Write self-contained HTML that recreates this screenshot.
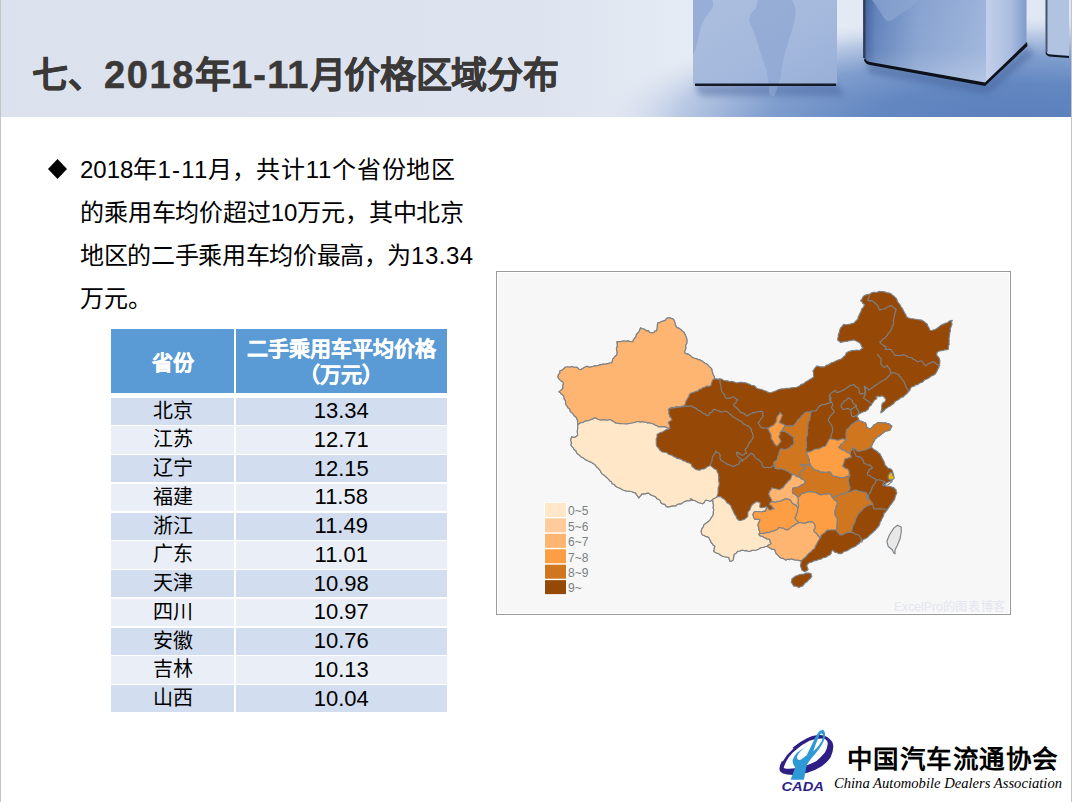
<!DOCTYPE html>
<html lang="zh-CN"><head><meta charset="utf-8">
<style>
*{margin:0;padding:0;box-sizing:border-box}
html,body{width:1072px;height:802px;overflow:hidden;background:#fff}
body{position:relative;font-family:"Liberation Sans",sans-serif;color:#000}
.abs{position:absolute}
#lb{left:0;top:0;width:1px;height:802px;background:#c4c4c4}
#rb{left:1071px;top:0;width:1px;height:802px;background:#c4c4c4}
#title{left:32px;top:46px;font-size:36px;font-weight:bold;color:#3b3838;white-space:nowrap;-webkit-text-stroke:0.5px #3b3838}
#title .d1{font-size:38px;letter-spacing:1.6px}
#title .d2{font-size:38px;letter-spacing:1.2px}
.bl{left:80px;font-size:24px;line-height:43px;color:#000;white-space:nowrap}
#dia{left:48px;top:159px;width:19px;height:20px}
.th{position:absolute;background:#5b9bd5;color:#fff;font-weight:bold;font-size:21px;-webkit-text-stroke:0.3px #fff}
.td{position:absolute;font-size:20px;color:#000;text-align:center;line-height:27px}
#wm{left:894px;top:599px;font-size:11px;color:#e6e6ee;white-space:nowrap}
</style></head><body>
<svg class="abs" style="left:0;top:0" width="1072" height="117" viewBox="0 0 1072 117">
<defs>
<linearGradient id="hbg" x1="0" y1="0" x2="1072" y2="0" gradientUnits="userSpaceOnUse">
 <stop offset="0" stop-color="#dbe2ed"/><stop offset="0.5" stop-color="#dde4ef"/><stop offset="0.6" stop-color="#e3e9f3"/><stop offset="0.65" stop-color="#e6ecf5"/><stop offset="1" stop-color="#dfe7f3"/>
</linearGradient>
<radialGradient id="floor" gradientUnits="userSpaceOnUse" cx="1020" cy="120" r="420" gradientTransform="translate(0 90) scale(1 0.25)">
 <stop offset="0" stop-color="#5a7fbb"/><stop offset="0.35" stop-color="#6387c1"/><stop offset="0.6" stop-color="#809ece"/><stop offset="0.82" stop-color="#bccbe5"/><stop offset="1" stop-color="#dde4ef" stop-opacity="0"/>
</radialGradient>
<linearGradient id="c1" x1="0" y1="0" x2="1" y2="1">
 <stop offset="0" stop-color="#adbfe0"/><stop offset="0.6" stop-color="#a3b8dc"/><stop offset="1" stop-color="#98afd7"/>
</linearGradient>
<linearGradient id="c2" x1="864" y1="0" x2="984" y2="0" gradientUnits="userSpaceOnUse">
 <stop offset="0" stop-color="#42619c"/><stop offset="0.1" stop-color="#6182bb"/><stop offset="0.45" stop-color="#86a2d0"/><stop offset="1" stop-color="#9cb3da"/>
</linearGradient>
<linearGradient id="c2v" x1="0" y1="0" x2="0" y2="1">
 <stop offset="0" stop-color="#ffffff" stop-opacity="0"/><stop offset="0.6" stop-color="#ffffff" stop-opacity="0.05"/><stop offset="1" stop-color="#ffffff" stop-opacity="0.25"/>
</linearGradient>
<linearGradient id="c2r" x1="0" y1="0" x2="1" y2="0">
 <stop offset="0" stop-color="#c3d0ea"/><stop offset="0.6" stop-color="#abbee0"/><stop offset="1" stop-color="#7f9bcc"/>
</linearGradient>
<linearGradient id="sh" x1="0" y1="0" x2="0" y2="1">
 <stop offset="0" stop-color="#3f5f98" stop-opacity="0.55"/><stop offset="1" stop-color="#3f5f98" stop-opacity="0"/>
</linearGradient>
<filter id="blur" x="-20%" y="-50%" width="140%" height="200%"><feGaussianBlur stdDeviation="3"/></filter>
</defs>
<rect x="0" y="0" width="1072" height="117" fill="url(#hbg)"/>
<rect x="540" y="0" width="532" height="117" fill="url(#floor)"/>
<g filter="url(#blur)"><path d="M694 84 L837 84 L845 96 L700 96Z" fill="#3f5f98" opacity="0.45"/>
<path d="M866 62 L985 84 L1027 46 L1034 54 L988 94 L870 74Z" fill="#3f5f98" opacity="0.5"/></g>
<!-- cube 1 -->
<path d="M693 0 L837 0 L837 82 Q837 85 834 85 L696 85 Q693 85 693 82Z" fill="url(#c1)"/>
<path d="M758 0 L791.9 0 Q796 6 795.3 13.5 Q795 20 793 27.1 Q790 36 787.4 45.1 Q784 54 782.8 63.2 Q781 72 780.6 76.7 L778.3 84 L768.5 84 Q768 78 767 72.2 Q765 65 762.5 58.7 Q760 52 758 45.1 Q756 38 753.5 31.6 Q751 25 749 20.3 Q750 12 755.8 9Z" fill="#8aa4d0" opacity="0.6"/>
<path d="M769 86 L778 86 Q776 92 773.8 97.1 Q770 96 769 92Z" fill="#8ea8d2" opacity="0.6"/>
<path d="M693 0 L712 0 Q716 6 708 14 Q700 24 698 40 Q696 50 693 54Z" fill="#8aa4d0" opacity="0.6"/>
<path d="M695 83.5 L836 83.5 L836 86 L695 86Z" fill="#141a28"/>
<!-- cube 2 -->
<path d="M864 0 L986 0 L986 84 L869 63 Q864 62 864 57Z" fill="url(#c2)"/>
<path d="M864 0 L986 0 L986 84 L869 63 Q864 62 864 57Z" fill="url(#c2v)"/>
<path d="M986 0 L1026.5 0 L1026.5 43 L986 83Z" fill="url(#c2r)"/>
<path d="M863 0 L865.5 0 L865.5 58 L863 58Z" fill="#2c3a5a" opacity="0.9"/>
<path d="M864 60.5 Q866 64.5 870 65 L985 86 L1027.5 46 L1027 42 L985 82.5 L870 62 Q866 61.5 865 58Z" fill="#0d1119"/>
<path d="M872 0 Q878 8 884 18 Q888 24 892 20 Q900 14 910 8 Q916 4 918 0Z" fill="#8ea7d1" opacity="0.7"/>
<!-- cube 3 -->
<path d="M1045.5 0 L1069 0 L1069 55.5 L1049 54 Q1045.5 53 1045.5 50Z" fill="#b2c3e2"/>
<path d="M1045.5 0 L1047.5 0 L1047.5 52 L1045.5 52Z" fill="#2c3a5a" opacity="0.8"/>
<path d="M1046 51.5 Q1047 54 1050 54.5 L1069 56 L1069 58 L1049 56.5 Q1046 55.5 1045.5 53Z" fill="#10151f"/>
</svg>
<div id="lb" class="abs"></div><div id="rb" class="abs"></div>
<div id="title" class="abs">七、<span class="d1">2018</span>年<span class="d2">1-11</span>月<span style="margin-left:-1.5px;letter-spacing:-0.3px">价格区域分布</span></div>
<svg id="dia" class="abs" viewBox="0 0 19 20"><path d="M9.5 0 L19 10 L9.5 20 L0 10Z" fill="#000"/></svg>
<div class="abs bl" style="top:148px">2018年<span style="letter-spacing:1.2px">1-11</span>月，<span style="letter-spacing:0.7px">共计11个省份地区</span></div>
<div class="abs bl" style="top:191px;letter-spacing:-0.15px">的乘用车均价超过10万元，其中北京</div>
<div class="abs bl" style="top:234px;letter-spacing:-0.35px">地区的二手乘用车均价最高，为<span style="letter-spacing:0.5px">13.34</span></div>
<div class="abs bl" style="top:277px">万元。</div>
<div class="th" style="left:111px;top:329px;width:123px;height:64px"><span style="position:absolute;left:0;right:0;top:17px;text-align:center">省份</span></div>
<div class="th" style="left:235.5px;top:329px;width:211.5px;height:64px"><span style="position:absolute;left:0;right:0;top:7px;text-align:center;line-height:26px">二手乘用车平均价格<br>（万元）</span></div>
<div class="td" style="left:111px;top:397.50px;width:123px;height:27.27px;background:#d2deef"><span>北京</span></div>
<div class="td" style="left:235.5px;top:397.50px;width:211.5px;height:27.27px;background:#d2deef"><span style="font-size:22px;position:relative;top:-0.5px">13.34</span></div>
<div class="td" style="left:111px;top:426.27px;width:123px;height:27.27px;background:#eaeff7"><span>江苏</span></div>
<div class="td" style="left:235.5px;top:426.27px;width:211.5px;height:27.27px;background:#eaeff7"><span style="font-size:22px;position:relative;top:-0.5px">12.71</span></div>
<div class="td" style="left:111px;top:455.04px;width:123px;height:27.27px;background:#d2deef"><span>辽宁</span></div>
<div class="td" style="left:235.5px;top:455.04px;width:211.5px;height:27.27px;background:#d2deef"><span style="font-size:22px;position:relative;top:-0.5px">12.15</span></div>
<div class="td" style="left:111px;top:483.81px;width:123px;height:27.27px;background:#eaeff7"><span>福建</span></div>
<div class="td" style="left:235.5px;top:483.81px;width:211.5px;height:27.27px;background:#eaeff7"><span style="font-size:22px;position:relative;top:-0.5px">11.58</span></div>
<div class="td" style="left:111px;top:512.58px;width:123px;height:27.27px;background:#d2deef"><span>浙江</span></div>
<div class="td" style="left:235.5px;top:512.58px;width:211.5px;height:27.27px;background:#d2deef"><span style="font-size:22px;position:relative;top:-0.5px">11.49</span></div>
<div class="td" style="left:111px;top:541.35px;width:123px;height:27.27px;background:#eaeff7"><span>广东</span></div>
<div class="td" style="left:235.5px;top:541.35px;width:211.5px;height:27.27px;background:#eaeff7"><span style="font-size:22px;position:relative;top:-0.5px">11.01</span></div>
<div class="td" style="left:111px;top:570.12px;width:123px;height:27.27px;background:#d2deef"><span>天津</span></div>
<div class="td" style="left:235.5px;top:570.12px;width:211.5px;height:27.27px;background:#d2deef"><span style="font-size:22px;position:relative;top:-0.5px">10.98</span></div>
<div class="td" style="left:111px;top:598.89px;width:123px;height:27.27px;background:#eaeff7"><span>四川</span></div>
<div class="td" style="left:235.5px;top:598.89px;width:211.5px;height:27.27px;background:#eaeff7"><span style="font-size:22px;position:relative;top:-0.5px">10.97</span></div>
<div class="td" style="left:111px;top:627.66px;width:123px;height:27.27px;background:#d2deef"><span>安徽</span></div>
<div class="td" style="left:235.5px;top:627.66px;width:211.5px;height:27.27px;background:#d2deef"><span style="font-size:22px;position:relative;top:-0.5px">10.76</span></div>
<div class="td" style="left:111px;top:656.43px;width:123px;height:27.27px;background:#eaeff7"><span>吉林</span></div>
<div class="td" style="left:235.5px;top:656.43px;width:211.5px;height:27.27px;background:#eaeff7"><span style="font-size:22px;position:relative;top:-0.5px">10.13</span></div>
<div class="td" style="left:111px;top:685.20px;width:123px;height:27.27px;background:#d2deef"><span>山西</span></div>
<div class="td" style="left:235.5px;top:685.20px;width:211.5px;height:27.27px;background:#d2deef"><span style="font-size:22px;position:relative;top:-0.5px">10.04</span></div>
<svg class="abs" style="left:0;top:0" width="1072" height="802" viewBox="0 0 1072 802">
<rect x="496.5" y="271.5" width="514" height="343" fill="#f7f7f7" stroke="#9a9a9a" stroke-width="1"/>
<rect x="497.5" y="272.5" width="512" height="341" fill="none" stroke="#ffffff" stroke-width="1"/>
<path d="M558 376.8 L558.4 374.7 L559.8 373.3 L560 370.8 L562.2 370.1 L563.7 368.8 L565 367.3 L566.7 367 L568.8 367 L569.9 367.2 L572 366.5 L573.4 367.1 L575.6 367.3 L576.9 367.3 L577.9 368.1 L579.1 369.3 L580.9 369.8 L582.4 368.5 L583.9 367.9 L585.9 366.5 L587.1 366.2 L588.8 367.2 L590.9 366.9 L593.1 366.5 L594.5 365.9 L596.7 365.9 L598.1 365.5 L599.9 364.9 L602.2 364.4 L603.7 364 L605.5 364.3 L607.8 363.6 L610.3 363 L611.9 362.9 L612.4 360.6 L612.9 358.9 L613.9 357.8 L615.1 356.3 L616.9 354.9 L617.2 352.7 L616.9 351 L616.4 348.6 L617.3 346.6 L617.3 343.6 L616.9 341.9 L618.4 341.6 L620.3 341.6 L622 341.2 L623.7 341 L626.3 341.3 L627.9 340.9 L629.1 341.2 L631.3 341.8 L632.8 341.9 L633.4 339.8 L634.3 338.6 L636.2 336.3 L636.3 334.7 L637.4 333.3 L639.1 331.7 L639.9 329.4 L640.8 327.9 L642.3 328.8 L644.4 329.2 L646.5 330.9 L648.5 330.7 L649.5 332.5 L651.8 332.9 L653.9 332.7 L654.7 331.1 L656.8 330.9 L657 329.3 L657.4 326.4 L657.4 324.9 L657.8 322.9 L659.8 322.6 L662.2 321.2 L663.8 320.9 L665.7 320.1 L666.5 318.6 L667.8 317.9 L669.1 317.7 L671.1 318.4 L672.8 318.9 L674 320.2 L674.8 322.1 L675.1 323.7 L675.8 325.9 L677 327.6 L679.2 328.4 L681 329.7 L681.8 330.8 L683.8 331.9 L684.7 334.1 L685.3 334.9 L686 336.8 L686.8 338.9 L686.9 341.4 L686.8 343.2 L685.6 345.3 L685.8 346.9 L685.8 348.5 L684.6 351.4 L684.8 352.9 L686.6 353.9 L688.7 354.4 L690.4 355.8 L691.7 356.9 L693.5 358 L695.6 358.5 L697.9 359.4 L699.7 359.9 L701.6 360.7 L703.1 361.9 L704.9 363.3 L706.5 363.9 L707.7 364.9 L709.1 366.6 L710.7 367.8 L711.7 368.8 L711.9 370.7 L712.5 372.4 L713.1 374.7 L714.2 376.4 L714.7 378.8 L716.8 378.8 L717.7 379.2 L719.7 378.8 L722.1 379.3 L723.2 380.2 L725.5 380.8 L727.7 380.8 L729.3 381.7 L731.2 381.2 L733.8 381.9 L736.1 382.8 L737.7 382.8 L739.8 382.3 L741.6 382.3 L743.1 382.6 L745.6 382.8 L748.1 383.7 L749.5 384.3 L751.3 385.2 L753.8 385.6 L755.6 386.8 L756 387.8 L758.1 388.7 L760.5 389.2 L762.3 389.8 L763.9 390.5 L766.4 391.2 L768.2 392.4 L770 392.8 L771.6 392.5 L773.6 391.7 L776.2 390.8 L778.3 389.7 L779.8 389.3 L781.9 388.8 L784.3 388.9 L786.2 388.2 L788 388.3 L789.5 388.3 L791.5 387.8 L793.9 387.6 L796.2 387.5 L797.9 386.8 L800 385.7 L800.7 384.6 L803.3 383.9 L804.3 383.1 L805.9 381.7 L807.9 380.8 L809.9 379.4 L811.1 378.9 L811.9 378.2 L813.9 376.8 L813.4 374.8 L813.6 373.2 L812.9 370.8 L813.9 369.6 L815.4 367.4 L816.9 365.9 L818.2 366.2 L820.2 366.8 L821.8 366.8 L823.9 366.9 L825 366.4 L826.8 365 L828.2 365 L829.9 363.9 L828.2 365 L826.7 365 L825.2 366.2 L826.7 365 L828.2 365 L829.8 363.7 L831.3 362.9 L833.1 362.3 L835 361.6 L837 360.6 L838.9 359.8 L840.6 359.3 L842.3 358.3 L843.4 357 L845.3 355.4 L846.2 353.1 L847.9 352.1 L849.6 351.3 L850.9 350.9 L852.7 350.5 L855 350.4 L856.6 350 L859.3 350.5 L860.8 349.6 L862 348.3 L863.2 347.9 L861.5 346.5 L861 344.4 L859.3 342.6 L858 341.9 L855.6 340.6 L854 340 L852.4 340.1 L851.3 340.6 L849.1 340.7 L847.5 341.3 L846.3 341.3 L844.1 341.7 L842.5 341.9 L841 342.6 L839.8 341.8 L837.7 340 L837.9 338 L838.3 336.7 L838.3 335 L839.3 332.1 L839.6 330.8 L840.1 329 L841.1 327.3 L842.4 326.1 L843.6 324.3 L845.1 324.7 L846.6 324.7 L848.8 324.3 L850.1 324.3 L851.8 323.5 L854 323 L855.3 321.6 L856.6 320.2 L858 319 L858.1 317 L859.3 315.1 L859.6 313.9 L861 311.6 L861.4 309.9 L861.9 308.6 L863.3 307.5 L863.9 306.3 L864.5 304.6 L862.8 303.5 L862.1 301.7 L860.6 300.7 L862.1 299 L862.7 297.3 L864.5 295.5 L866.1 294.9 L868.5 294.2 L869.8 294.2 L871.7 292.7 L873.2 292.3 L875 292.2 L876.6 292.5 L879.5 291.3 L881.2 291.6 L882.9 291.5 L884.5 291.9 L886.6 292.6 L889.3 293.1 L890.7 293.5 L891.8 294.6 L893.7 295.9 L894.9 297.1 L896 298.1 L896.9 299.4 L897.5 301.8 L898.6 303.1 L899.9 304.6 L900.8 306.5 L901.9 307.9 L903.1 309.9 L903.8 311.2 L904.6 312.9 L906 315 L906.3 316.5 L907.7 317.7 L909 318 L910.7 318.7 L912.8 318.7 L914.3 319 L915.9 319.2 L918.6 319.8 L920.2 319.9 L922.1 320.4 L924.4 321.8 L926.2 323.5 L927.4 324.3 L927.7 326 L929 327.8 L930 330.2 L932.2 330.5 L933.8 329.7 L935.2 329.5 L936.8 328.5 L938.5 327.2 L940.5 325.6 L942.4 324.6 L944.1 323.9 L945.7 323 L947.4 322.9 L948.9 321.3 L950.8 320.6 L952.3 320.4 L951.5 322.2 L952 324 L951.9 324.8 L951 326.9 L950.2 328.7 L950.5 331.1 L949.8 332.4 L949.6 334.8 L949.3 336.4 L949 338.9 L949.2 340.4 L949 342.6 L949.2 344.7 L948.2 346 L948.5 347.6 L948.3 349.2 L947 349.7 L944.6 349.9 L943.1 350.5 L941.2 350.7 L939.7 350.9 L937.9 351.8 L937 352.7 L936.6 354.4 L937.4 356.2 L938.5 357 L939.2 358.3 L939.8 360.4 L939.9 361.8 L939.8 363.6 L939.1 365.2 L938.9 367.6 L937.9 368.8 L937.2 370.7 L936.5 372 L935.2 374.1 L933.3 375.2 L931.5 375.9 L930.7 376.5 L929.1 377.7 L926.9 379 L925 379.6 L923.7 380.8 L922.3 382.3 L920.6 382.7 L918.9 383.5 L917.7 384.8 L915.3 385 L913.9 386.4 L911.7 386.8 L910.2 388.6 L910 390.3 L908.2 391.5 L907.7 392.8 L906.1 394.2 L904.4 395.6 L903.3 396.9 L901 397.4 L899.7 398.8 L897.8 400 L896.2 400.8 L894.5 402 L893.7 403.8 L891.7 404.8 L890.5 405.9 L888.5 406.8 L886.7 408.1 L885.1 409.2 L883.8 410.8 L881.9 412.3 L880.8 412.8 L881.1 411 L881.8 408.9 L881.7 406.7 L881.8 404.8 L882.9 402.8 L884.9 401.7 L885.8 399.8 L885 398.3 L883.6 396.6 L881.8 395.8 L879.9 396.6 L878 396 L875.8 396.8 L877.1 397.7 L875.9 399.3 L874.2 400.2 L873.5 401.9 L871.9 403.7 L871 405.4 L870 406 L868.9 407.4 L868.2 409.2 L866.6 410.4 L865.1 411.4 L863.7 411.7 L861.6 412.4 L859.9 413.4 L858 414.8 L856.9 416.4 L857.5 417.5 L858.6 418.5 L858.9 420.3 L860 421.2 L861.3 421.6 L863.5 422.3 L865 422.5 L866.1 424.3 L866.4 425.7 L866.9 427.5 L868.9 428.6 L870 428.8 L871.4 427.9 L873 426.5 L873.8 425 L875.4 424.2 L876.7 423.7 L877.5 422.5 L880 422.6 L882.1 422.5 L883.8 423.1 L886 422.9 L887 423.7 L888.8 423.8 L890 424.7 L891.9 426.2 L890.6 428.4 L890 430 L887.9 430.8 L886.3 431 L885 431.2 L883.6 432.7 L882.1 433.3 L880.8 434.8 L878.8 436.2 L877.2 436.9 L876.4 438 L875 438.8 L874.7 440 L873.3 442.4 L872.5 443.8 L871.7 445.7 L871.2 447.5 L872.8 448.3 L873.6 449.5 L875 450 L877.1 451.5 L878.6 453 L880 453.8 L880.6 455.4 L881.6 456.9 L882.5 458.8 L883.4 460.5 L884 461.6 L884.6 463.2 L885 465 L886.4 466.5 L887.8 468 L890 468.8 L891.6 469.6 L892.5 471.2 L892.9 473 L893.8 475 L893.2 476.5 L893.2 478.3 L892.5 480 L890.5 481.3 L888.9 481.8 L887.5 482.5 L885.9 483.3 L885.2 484.4 L883.8 485 L885.7 486.1 L887.5 486.2 L889.5 486.4 L891.9 487 L893.8 487.5 L894.7 488.8 L896.2 490 L896 491.7 L896.9 492.5 L896.1 494.6 L895.6 495.7 L895 497.5 L894.6 499.5 L893.3 501 L892.5 502.5 L891 504.4 L889.7 505.9 L888.8 507.5 L887.8 508.9 L886 511.4 L885 512.5 L883.6 514 L883.6 516.1 L882.5 517.5 L881.7 519.4 L880.8 521.2 L880 522.5 L879.6 524.6 L878.5 526.4 L877.5 527.5 L875.9 529.3 L875.1 530.5 L873.4 531.6 L872.9 532.5 L871.2 533.8 L869.3 535.4 L868.4 536.4 L867 537.8 L865 538.8 L863.2 539.8 L861.2 540.7 L860 542.5 L858.5 544 L857.1 544.8 L856 545.9 L853.8 546.9 L852.5 547.5 L850.6 548.4 L848.8 549.6 L847.3 550.8 L845 551.2 L843.6 551.8 L842 553.4 L840 553.8 L838.2 553.4 L836.7 552.4 L835 552.5 L834.2 551.5 L832.5 550 L831.2 552.1 L831.3 553.1 L830 555 L828.1 555.4 L826.9 556.8 L825 557.5 L823.2 557.6 L820.8 559.3 L819.5 559.2 L817.5 560 L816 560.7 L814.3 560.8 L811.8 562.1 L810 562.5 L808.4 563.3 L806.9 565 L807 566.8 L807.5 567.6 L808.1 569.4 L807 570.7 L805 571.5 L803.3 571.1 L801.9 570 L801.2 567.8 L800.5 566.2 L800.6 565 L800.9 563.5 L801.2 561.2 L799 560.6 L797.5 560 L795 559.9 L793.8 559.6 L791.2 558.8 L789.7 559.6 L787.4 559.1 L786.2 560 L784.9 559.6 L783 558.3 L781.7 558.3 L780 557.5 L778.6 555.8 L777.4 554.6 L776.2 553.8 L775.4 551.9 L775 550 L773.4 549.1 L771.8 549.2 L770 548.1 L767.9 546.6 L766.2 546.2 L768.3 545.1 L769.3 544.4 L771.2 543.8 L769.7 544.5 L768.2 545.2 L767.5 546.2 L765.3 546.5 L763.8 547.3 L761.2 547.5 L759 548.8 L758.3 549.2 L756.2 550 L754.6 550.3 L751.6 550.4 L750 551.2 L748.1 551.3 L746.1 550.4 L744.5 550.7 L742.5 550 L740.9 550.4 L739.4 551.2 L737.5 551.2 L736.4 552.9 L734.8 553.9 L733.8 555 L733.8 556.8 L733.4 558.1 L733.1 560 L731.5 561.1 L730 561.2 L729.2 559.1 L728.8 557.5 L726.4 557 L724.6 556.8 L722.5 556.2 L721.3 555.5 L720.4 554.9 L718.8 553.8 L717.5 553.2 L715.2 552.5 L713.8 551.2 L714.2 549.8 L714.3 547.8 L715 546.2 L713.2 545.1 L712.2 543.5 L711.2 542.5 L710.7 541.1 L709.9 539.7 L708.8 537.5 L707.1 536.6 L705.9 536.6 L703.9 535.2 L702.5 535 L701.5 533.2 L701.2 531.2 L701.6 530 L702 528.6 L703.5 526.7 L703.8 525 L705.1 524 L706.8 522.8 L708.8 521.2 L710.1 519.8 L710.9 518.4 L712.5 516.2 L713.3 514.4 L713.3 511.8 L713.8 510 L713.1 507.7 L713.6 505.7 L713.1 503.8 L713.1 502.7 L712.8 500.4 L712.5 499.4 L711.8 500.4 L710 501.2 L708.6 500.7 L706.2 500 L704.9 500.9 L704.3 502.6 L702.5 503.8 L701.5 503.3 L699 502.8 L697.7 502.2 L696.2 501.2 L694.8 500.5 L692.7 500.1 L691.9 499.1 L690 498.8 L691.7 499.9 L689.7 500.7 L687.7 500.5 L685.5 501.1 L683.8 501.9 L682.7 502.7 L680.8 503.9 L678.5 503.9 L677.1 504.6 L675.8 505.9 L673.7 505.8 L671.5 506.1 L669.8 506.6 L667.8 506.9 L666.2 506.4 L664.9 504.4 L662.8 503.9 L661.2 503 L660.1 500.6 L658.7 499.3 L656.8 498.8 L655.8 496.9 L653.7 496 L652.1 495.4 L650.5 494.8 L649 493.3 L647.8 492.9 L645.5 493.8 L643.4 493.8 L641.8 493.9 L640.9 495.4 L639.8 496.6 L638.8 497.9 L638 496.4 L636.4 494.7 L635.8 492.9 L633.9 492.6 L632.3 491.8 L630.1 491.2 L627.7 491 L625.9 490.9 L623.6 490.2 L621.9 489.5 L620.6 488.4 L618.5 487.7 L616.9 486.9 L615 485.8 L614.5 484.5 L612.2 483.8 L611.6 481.8 L609.9 480.9 L608.7 479.4 L607.4 478.1 L605.6 476.5 L603.9 474.9 L602.2 473.9 L601 472.5 L600.5 471 L599.2 469.3 L597.9 467.9 L596.4 466.7 L595.6 465.3 L593.9 463.9 L592.1 462.7 L590.9 462 L588.7 461.4 L587 460.1 L585.9 460 L584.7 459.1 L583.1 457.8 L581.3 456.9 L579.6 455.3 L577.9 454 L576.6 452.9 L576.1 451 L574.1 449.5 L573.1 447.6 L571.8 446.4 L571 444.9 L571.5 443 L570.8 440.4 L571 439.1 L571.7 436.7 L572.8 437.1 L574.7 437.4 L576.7 436.1 L577.7 435.2 L577.5 433.3 L577.3 431.2 L577.7 429 L577.8 427.9 L577.7 425.4 L578.9 423.9 L579.9 423.2 L578.5 424.2 L577.9 424.7 L577.6 423.3 L577.5 420.4 L576.9 418.8 L576.1 417.2 L574.2 415.8 L572.9 413.8 L572 412.8 L570.3 411.6 L570 409.4 L568 407.8 L567.4 406.4 L566 404.8 L565.7 403.2 L565.4 400.4 L564.2 399.1 L564 396.8 L562.9 395 L561.2 393.9 L560.5 392.8 L559 391.8 L560.2 390.9 L561.8 389.4 L563 388.8 L562.9 387.1 L562.9 385.2 L563.4 383.7 L563 381.8 L561.7 381.2 L560.3 380.2 L559 378.8 L558.2 377.6Z" fill="#964806" stroke="#7d8287" stroke-width="1.15" stroke-linejoin="round"/>
<path d="M558 376.8 L558.4 374.7 L559.8 373.3 L560 370.8 L562.2 370.1 L563.7 368.8 L565 367.3 L566.7 367 L568.8 367 L569.9 367.2 L572 366.5 L573.4 367.1 L575.6 367.3 L576.9 367.3 L577.9 368.1 L579.1 369.3 L580.9 369.8 L582.4 368.5 L583.9 367.9 L585.9 366.5 L587.1 366.2 L588.8 367.2 L590.9 366.9 L593.1 366.5 L594.5 365.9 L596.7 365.9 L598.1 365.5 L599.9 364.9 L602.2 364.4 L603.7 364 L605.5 364.3 L607.8 363.6 L610.3 363 L611.9 362.9 L612.4 360.6 L612.9 358.9 L613.9 357.8 L615.1 356.3 L616.9 354.9 L617.2 352.7 L616.9 351 L616.4 348.6 L617.3 346.6 L617.3 343.6 L616.9 341.9 L618.4 341.6 L620.3 341.6 L622 341.2 L623.7 341 L626.3 341.3 L627.9 340.9 L629.1 341.2 L631.3 341.8 L632.8 341.9 L633.4 339.8 L634.3 338.6 L636.2 336.3 L636.3 334.7 L637.4 333.3 L639.1 331.7 L639.9 329.4 L640.8 327.9 L642.3 328.8 L644.4 329.2 L646.5 330.9 L648.5 330.7 L649.5 332.5 L651.8 332.9 L653.9 332.7 L654.7 331.1 L656.8 330.9 L657 329.3 L657.4 326.4 L657.4 324.9 L657.8 322.9 L659.8 322.6 L662.2 321.2 L663.8 320.9 L665.7 320.1 L666.5 318.6 L667.8 317.9 L669.1 317.7 L671.1 318.4 L672.8 318.9 L674 320.2 L674.8 322.1 L675.1 323.7 L675.8 325.9 L677 327.6 L679.2 328.4 L681 329.7 L681.8 330.8 L683.8 331.9 L684.7 334.1 L685.3 334.9 L686 336.8 L686.8 338.9 L686.9 341.4 L686.8 343.2 L685.6 345.3 L685.8 346.9 L685.8 348.5 L684.6 351.4 L684.8 352.9 L686.6 353.9 L688.7 354.4 L690.4 355.8 L691.7 356.9 L693.5 358 L695.6 358.5 L697.9 359.4 L699.7 359.9 L701.6 360.7 L703.1 361.9 L704.9 363.3 L706.5 363.9 L707.7 364.9 L709.1 366.6 L710.7 367.8 L711.7 368.8 L711.9 370.7 L712.5 372.4 L713.1 374.7 L714.2 376.4 L714.7 378.8 L713.6 379.2 L712.5 380.2 L711.9 382 L711.4 383.3 L711 385.4 L709.3 386.2 L706.5 386.1 L704.6 387.4 L702.7 387.7 L701.1 389 L699.3 389.3 L698.1 390.9 L696 391.4 L694.5 392 L692.4 392.8 L690.7 393.1 L689.2 394.7 L689 396.2 L687.7 398.3 L686.4 400.5 L685.6 402.1 L685.4 403.8 L684 405.7 L681.9 406.1 L681 406.7 L679.1 406.7 L677.2 407.2 L675.4 407.7 L673.3 407.8 L672 407.4 L669.7 408.2 L668.2 409.7 L669 411.1 L668.7 413.3 L669.4 414.9 L669.7 416.5 L671.4 418.3 L672 420.2 L671 420.5 L669.6 421.6 L668.2 422.5 L669.2 424.6 L669.7 426.4 L669.7 428.4 L667.5 428.3 L665.7 427.1 L663.8 426.9 L662.3 426.9 L660.1 426.7 L658.5 426.9 L656.9 425.8 L655.2 425.2 L653.3 424 L651.1 423.5 L649.6 422.7 L647.9 423.2 L645.8 422.2 L644.3 422.1 L641.9 421.7 L640.3 422.3 L638.7 421.5 L636.8 421.7 L635.3 422.2 L632.5 423 L630.8 423.2 L628.5 423.7 L627.3 423.9 L624.8 424 L622.6 423.8 L621.1 423.5 L619.6 423.6 L617.3 423.3 L615.9 423.2 L614.1 422.1 L613 421.1 L611.6 420.6 L609.9 419.5 L607.9 420.2 L606.1 420.3 L604.4 419.6 L603 419.9 L600.9 420.2 L599 419.7 L597.5 419.3 L595.7 418.1 L594.2 418 L592.7 419.2 L591.3 419.4 L588.9 420.5 L587.4 421 L585 421.1 L583.3 422.5 L581.6 422.7 L579.9 423.2 L578.5 424.2 L577.9 424.7 L577.6 423.3 L577.5 420.4 L576.9 418.8 L576.1 417.2 L574.2 415.8 L572.9 413.8 L572 412.8 L570.3 411.6 L570 409.4 L568 407.8 L567.4 406.4 L566 404.8 L565.7 403.2 L565.4 400.4 L564.2 399.1 L564 396.8 L562.9 395 L561.2 393.9 L560.5 392.8 L559 391.8 L560.2 390.9 L561.8 389.4 L563 388.8 L562.9 387.1 L562.9 385.2 L563.4 383.7 L563 381.8 L561.7 381.2 L560.3 380.2 L559 378.8 L558.2 377.6Z" fill="#feb571" stroke="#7d8287" stroke-width="1.15" stroke-linejoin="round"/>
<path d="M579.9 423.2 L581.6 422.7 L583.3 422.5 L585 421.1 L587.4 421 L588.9 420.5 L591.3 419.4 L592.7 419.2 L594.2 418 L595.7 418.1 L597.5 419.3 L599 419.7 L600.9 420.2 L603 419.9 L604.4 419.6 L606.1 420.3 L607.9 420.2 L609.9 419.5 L611.6 420.6 L613 421.1 L614.1 422.1 L615.9 423.2 L617.3 423.3 L619.6 423.6 L621.1 423.5 L622.6 423.8 L624.8 424 L627.3 423.9 L628.5 423.7 L630.8 423.2 L632.5 423 L635.3 422.2 L636.8 421.7 L638.7 421.5 L640.3 422.3 L641.9 421.7 L644.3 422.1 L645.8 422.2 L647.9 423.2 L649.6 422.7 L651.1 423.5 L653.3 424 L655.2 425.2 L656.9 425.8 L658.5 426.9 L660.1 426.7 L662.3 426.9 L663.8 426.9 L665.7 427.1 L667.5 428.3 L669.7 428.4 L668.2 429.2 L665.7 429.9 L664 431.1 L662.4 432 L660.6 432.4 L658.6 433.5 L657 434.4 L657.1 437 L656.2 439.1 L656.2 440.6 L656.3 443 L656.3 444.9 L656.9 446.3 L658.7 448.3 L659.4 449.7 L660.8 450.9 L662.4 452 L664.6 452.3 L666.8 452.7 L668.2 453.9 L669.7 454.7 L672 455.2 L673.4 456.5 L675.1 457.1 L677.2 458.4 L679.1 458.7 L681.6 459.4 L682.7 460.7 L685.2 461.1 L687.1 462.5 L689.2 462.9 L691.2 464.1 L692 466.4 L693.3 467.5 L695.2 468.9 L696.6 469.7 L698 469.9 L699.7 470.3 L701.4 469.1 L704.2 469 L705.7 468.1 L707 466.9 L708.3 466.3 L710.3 465.5 L712.2 466.9 L713.5 468.2 L715.3 469.3 L716.9 470 L717.1 471.7 L718.3 473.6 L718.6 475.8 L718.8 477.5 L718.6 479.9 L718.9 482 L719.3 483.7 L718.8 486.2 L718.1 488 L718.2 490 L718 491.9 L718.1 492.9 L717.5 495 L716.9 496.9 L715.4 497.9 L713.7 498.8 L712.5 499.4 L711.8 500.4 L710 501.2 L708.6 500.7 L706.2 500 L704.9 500.9 L704.3 502.6 L702.5 503.8 L701.5 503.3 L699 502.8 L697.7 502.2 L696.2 501.2 L694.8 500.5 L692.7 500.1 L691.9 499.1 L690 498.8 L691.7 499.9 L689.7 500.7 L687.7 500.5 L685.5 501.1 L683.8 501.9 L682.7 502.7 L680.8 503.9 L678.5 503.9 L677.1 504.6 L675.8 505.9 L673.7 505.8 L671.5 506.1 L669.8 506.6 L667.8 506.9 L666.2 506.4 L664.9 504.4 L662.8 503.9 L661.2 503 L660.1 500.6 L658.7 499.3 L656.8 498.8 L655.8 496.9 L653.7 496 L652.1 495.4 L650.5 494.8 L649 493.3 L647.8 492.9 L645.5 493.8 L643.4 493.8 L641.8 493.9 L640.9 495.4 L639.8 496.6 L638.8 497.9 L638 496.4 L636.4 494.7 L635.8 492.9 L633.9 492.6 L632.3 491.8 L630.1 491.2 L627.7 491 L625.9 490.9 L623.6 490.2 L621.9 489.5 L620.6 488.4 L618.5 487.7 L616.9 486.9 L615 485.8 L614.5 484.5 L612.2 483.8 L611.6 481.8 L609.9 480.9 L608.7 479.4 L607.4 478.1 L605.6 476.5 L603.9 474.9 L602.2 473.9 L601 472.5 L600.5 471 L599.2 469.3 L597.9 467.9 L596.4 466.7 L595.6 465.3 L593.9 463.9 L592.1 462.7 L590.9 462 L588.7 461.4 L587 460.1 L585.9 460 L584.7 459.1 L583.1 457.8 L581.3 456.9 L579.6 455.3 L577.9 454 L576.6 452.9 L576.1 451 L574.1 449.5 L573.1 447.6 L571.8 446.4 L571 444.9 L571.5 443 L570.8 440.4 L571 439.1 L571.7 436.7 L572.8 437.1 L574.7 437.4 L576.7 436.1 L577.7 435.2 L577.5 433.3 L577.3 431.2 L577.7 429 L577.8 427.9 L577.7 425.4 L578.9 423.9Z" fill="#ffe7c8" stroke="#7d8287" stroke-width="1.15" stroke-linejoin="round"/>
<path d="M716.9 496.9 L719 496.5 L721.2 496.9 L722.5 498.3 L724.3 499.1 L726.1 501.1 L726.7 502.7 L728 503.1 L730 504.8 L731.2 506.5 L731.6 508.2 L732.8 510.1 L732.9 510.6 L733.9 512.7 L734.7 514.5 L736.1 516 L736.5 517.9 L737.5 519.1 L739.1 520.5 L740.4 520.5 L743.1 519.7 L744.4 519.2 L746.3 517.9 L747.6 516.6 L747.9 514.8 L747.8 512.7 L748.3 511.4 L749.5 510.3 L750.5 508.4 L751.2 506.2 L752.2 504.8 L753.8 503.5 L754.8 502.7 L756.8 501.6 L757.9 502 L760 502.2 L760.1 504.4 L759.8 505.9 L760 507.4 L761.5 507.6 L763.3 507.4 L764.5 507.3 L766.3 506.8 L766.3 506.8 L766.5 508.7 L765.6 510.1 L765.9 511.4 L764.7 511.1 L762.4 511.6 L761.4 512 L759.1 511.7 L757.4 511.5 L755.9 511.5 L754.2 512 L753.3 513.8 L752.9 514.6 L753.3 515.9 L753.8 517.7 L754.8 519.2 L756.1 519 L758.1 519.3 L760 519.8 L759.1 522.1 L758.2 523.5 L758.1 525.7 L758.8 527.8 L759.1 530 L760 532 L759.3 533.7 L759.4 535 L759.4 535 L760.4 536 L762.7 536.3 L763.8 537.5 L765.7 537.9 L766.7 539 L768.9 539 L770 540 L770.2 541.9 L771.2 543.8 L769.7 544.5 L768.2 545.2 L767.5 546.2 L765.3 546.5 L763.8 547.3 L761.2 547.5 L759 548.8 L758.3 549.2 L756.2 550 L754.6 550.3 L751.6 550.4 L750 551.2 L748.1 551.3 L746.1 550.4 L744.5 550.7 L742.5 550 L740.9 550.4 L739.4 551.2 L737.5 551.2 L736.4 552.9 L734.8 553.9 L733.8 555 L733.8 556.8 L733.4 558.1 L733.1 560 L731.5 561.1 L730 561.2 L729.2 559.1 L728.8 557.5 L726.4 557 L724.6 556.8 L722.5 556.2 L721.3 555.5 L720.4 554.9 L718.8 553.8 L717.5 553.2 L715.2 552.5 L713.8 551.2 L714.2 549.8 L714.3 547.8 L715 546.2 L713.2 545.1 L712.2 543.5 L711.2 542.5 L710.7 541.1 L709.9 539.7 L708.8 537.5 L707.1 536.6 L705.9 536.6 L703.9 535.2 L702.5 535 L701.5 533.2 L701.2 531.2 L701.6 530 L702 528.6 L703.5 526.7 L703.8 525 L705.1 524 L706.8 522.8 L708.8 521.2 L710.1 519.8 L710.9 518.4 L712.5 516.2 L713.3 514.4 L713.3 511.8 L713.8 510 L713.1 507.7 L713.6 505.7 L713.1 503.8 L713.1 502.7 L712.8 500.4 L712.5 499.4 L713.7 498.8 L715.4 497.9Z" fill="#ffe7c8" stroke="#7d8287" stroke-width="1.15" stroke-linejoin="round"/>
<path d="M766.3 506.8 L767.9 508 L769.2 510 L771 509.9 L772.8 508.8 L774.4 508.7 L772.6 507.5 L771.8 506.1 L770.4 504.9 L769.2 504.2 L770.4 502.4 L771.8 501.6 L771.8 501.6 L773.3 501.6 L775.7 502.2 L777.1 501.3 L779.2 501.2 L780.9 500.9 L782.7 499.8 L783.3 499.8 L784.9 498.9 L786.8 498.8 L789.2 499.4 L790.7 500.2 L791.7 502.3 L792.7 503.5 L794.5 504.6 L796 504.9 L797 506.6 L798.5 507 L797.8 508.9 L797.5 510.4 L797.5 512.5 L796.3 514.3 L796.1 515.9 L795 517.5 L795.8 519.3 L797.6 521.3 L798.8 522.5 L797.4 523.6 L796.2 523.8 L794.4 525.2 L792.3 526.4 L791 527.1 L789.2 529.1 L787.5 530 L785.2 529.7 L783.6 528.2 L781.3 528.1 L780 527.5 L778.2 528.1 L777.6 529.2 L776.2 530 L773.7 530.9 L772 531.3 L770 531.9 L768.5 532.7 L767 532.4 L765 533.1 L762.8 533.4 L760.3 533.5 L758.8 534.4 L759.4 535 L759.3 533.7 L760 532 L759.1 530 L758.8 527.8 L758.1 525.7 L758.2 523.5 L759.1 522.1 L760 519.8 L758.1 519.3 L756.1 519 L754.8 519.2 L753.8 517.7 L753.3 515.9 L752.9 514.6 L753.3 513.8 L754.2 512 L755.9 511.5 L757.4 511.5 L759.1 511.7 L761.4 512 L762.4 511.6 L764.7 511.1 L765.9 511.4 L765.6 510.1 L766.5 508.7 L766.3 506.8Z" fill="#fe9e44" stroke="#7d8287" stroke-width="1.15" stroke-linejoin="round"/>
<path d="M771.8 501.6 L771.5 499.4 L770.6 498.2 L769.3 495.5 L768.5 493.7 L769.2 492.6 L770.2 490.3 L771.1 489.7 L771.8 487.8 L773.4 488.2 L775.7 488.8 L777.9 489.3 L779.6 489.8 L781.2 488.3 L783.1 487.6 L784.2 485.9 L785.6 484 L787 482.7 L788.2 480.9 L790 479.8 L790.8 478.2 L791.6 475.9 L792.6 473.9 L794.6 474.7 L796 475.9 L797.8 476.6 L799.8 477.2 L801.2 478.8 L803.7 479.7 L805 480.5 L805.2 482 L804.4 483.7 L802.7 484.5 L800.9 485.3 L799.8 486.4 L798.3 487 L796.4 487.5 L794.9 487.7 L792.6 488.3 L792.8 489.7 L792.4 490.8 L792.6 492.9 L794.4 494 L796.5 495.6 L797.9 496.8 L798.4 498.6 L798.4 500.5 L798.1 502.8 L798.6 505 L798.5 507 L797 506.6 L796 504.9 L794.5 504.6 L792.7 503.5 L791.7 502.3 L790.7 500.2 L789.2 499.4 L786.8 498.8 L784.9 498.9 L783.3 499.8 L782.7 499.8 L780.9 500.9 L779.2 501.2 L777.1 501.3 L775.7 502.2 L773.3 501.6 L771.8 501.6Z" fill="#feb571" stroke="#7d8287" stroke-width="1.15" stroke-linejoin="round"/>
<path d="M797.9 496.8 L798.4 498.6 L798.4 500.5 L798.1 502.8 L798.6 505 L798.5 507 L797.8 508.9 L797.5 510.4 L797.5 512.5 L796.3 514.3 L796.1 515.9 L795 517.5 L795.8 519.3 L797.6 521.3 L798.8 522.5 L801.4 522.6 L802.9 523.3 L805 523.1 L806.4 522.9 L807.9 522.1 L810 521.9 L811.2 521.8 L813.1 522.5 L814.5 524.5 L815 526.2 L815.1 528.1 L813.7 530 L813.8 531.2 L814.8 532.3 L816.5 533.4 L817.5 535 L819.1 536.8 L820 537.5 L821.1 536.7 L821.2 535 L822.8 534.1 L824.8 532.7 L825.6 531.7 L827.5 530 L830.2 530.1 L831.5 529.9 L834.3 530 L836.2 530 L836.2 530 L836.9 528.4 L837 525.7 L837.2 523.9 L837.2 522.1 L837.5 520 L837.3 517.6 L835.8 516.6 L835.1 514.9 L835 512.5 L835 510 L836.4 508.7 L836 506.8 L837 504.6 L837.5 502.5 L836.6 500.8 L834.7 500.5 L833.3 498.2 L832.5 497.5 L831.9 496.6 L830.9 494.6 L829.9 493.5 L827.9 493.8 L826.5 493.9 L823.7 494 L822 494.8 L819.7 494.6 L818.5 493.9 L816.5 492.7 L814.2 492.2 L812 491.6 L809.9 491.5 L808.3 491.6 L806.6 491.9 L803.8 493.1 L802.4 493.5 L801.2 494.1 L799.6 496.2 L797.9 496.8Z" fill="#fe9e44" stroke="#7d8287" stroke-width="1.15" stroke-linejoin="round"/>
<path d="M767.5 546.2 L768.2 545.2 L769.7 544.5 L771.2 543.8 L770.2 541.9 L770 540 L768.9 539 L766.7 539 L765.7 537.9 L763.8 537.5 L762.7 536.3 L760.4 536 L759.4 535 L758.8 534.4 L760.3 533.5 L762.8 533.4 L765 533.1 L767 532.4 L768.5 532.7 L770 531.9 L772 531.3 L773.7 530.9 L776.2 530 L777.6 529.2 L778.2 528.1 L780 527.5 L781.3 528.1 L783.6 528.2 L785.2 529.7 L787.5 530 L789.2 529.1 L791 527.1 L792.3 526.4 L794.4 525.2 L796.2 523.8 L797.4 523.6 L798.8 522.5 L801.4 522.6 L802.9 523.3 L805 523.1 L806.4 522.9 L807.9 522.1 L810 521.9 L811.2 521.8 L813.1 522.5 L814.5 524.5 L815 526.2 L815.1 528.1 L813.7 530 L813.8 531.2 L814.8 532.3 L816.5 533.4 L817.5 535 L819.1 536.8 L820 537.5 L819.5 539.4 L818.5 540.4 L817.5 542.5 L816.8 543.7 L815.4 546.1 L815 547.5 L814.3 549 L812.7 549.5 L811.2 551.6 L810 552.5 L808.7 553.4 L807.4 554.8 L806.5 556.1 L805 557.5 L803.3 558.9 L802.2 559.9 L801.2 560.6 L799 560.3 L797.5 560 L795 559.9 L793.8 559.6 L791.2 558.8 L789.7 559.6 L787.4 559.1 L786.2 560 L784.9 559.6 L783 558.3 L781.7 558.3 L780 557.5 L778.6 555.8 L777.4 554.6 L776.2 553.8 L775.4 551.9 L775 550 L773.4 549.1 L771.8 549.2 L770 548.1 L767.9 546.6 L766.2 546.2Z" fill="#feb571" stroke="#7d8287" stroke-width="1.15" stroke-linejoin="round"/>
<path d="M832.5 497.5 L834.2 496.7 L836.2 496.6 L837.7 495.6 L840 495 L841.5 493.9 L843.4 494 L845.2 493.3 L847.5 492.5 L849.3 492.2 L850.8 491.5 L853.4 490.5 L855 490 L856.3 490 L858.5 491.1 L860 491.2 L861.7 491.9 L863.7 492.1 L866.2 492.5 L866.7 494.3 L867.6 496.4 L869 498.3 L870 500 L871 501.6 L872 502.3 L872.5 503.8 L870.5 504.9 L868.3 505.3 L866.6 506.3 L865 507.5 L863.2 508.5 L862.1 510.2 L860.1 512.1 L858.7 513.6 L857.5 515 L856.7 517.1 L855.7 518.5 L855.3 520.4 L854.9 522.5 L854 523.7 L853 525.4 L852.5 527.5 L852.1 528.9 L851.6 530.9 L851.2 532.5 L849.4 532.2 L847.5 532.5 L845.8 533.1 L844.2 533.8 L842.4 534.9 L840 535 L838.8 533.2 L837.2 532 L836.2 530 L836.9 528.4 L837 525.7 L837.2 523.9 L837.2 522.1 L837.5 520 L837.3 517.6 L835.8 516.6 L835.1 514.9 L835 512.5 L835 510 L836.4 508.7 L836 506.8 L837 504.6 L837.5 502.5 L836.6 500.8 L834.7 500.5 L833.3 498.2 L832.5 497.5Z" fill="#cf761f" stroke="#7d8287" stroke-width="1.15" stroke-linejoin="round"/>
<path d="M799.8 477.2 L799.9 475.1 L799.8 472.7 L800.5 470.7 L802.2 470.5 L804.4 469.4 L804.8 468.2 L804.4 466.8 L801.9 465.5 L800.5 464.8 L802 464.4 L804.6 464.8 L806.1 464.9 L808.3 464.8 L810.3 464.8 L811.9 466.8 L813.1 468.2 L814.2 469.4 L816.2 470.1 L817.2 470.2 L819 470.9 L820.7 472 L822.4 471.7 L824.2 472.3 L826.3 472.2 L828.5 471.8 L830.5 472 L831.8 474.2 L832.5 475.9 L834.4 476.2 L835.9 476.4 L838.1 477 L840.3 477.9 L841.6 477.5 L843.2 477.4 L845 477.2 L847 476.4 L848.6 475.7 L850 475 L849.1 476.8 L848.4 479.4 L848.1 481.2 L849.1 483.4 L848.9 485.5 L850 486.5 L850 488.8 L849.5 490 L847.9 491.2 L847.5 492.5 L845.2 493.3 L843.4 494 L841.5 493.9 L840 495 L837.7 495.6 L836.2 496.6 L834.2 496.7 L832.5 497.5 L831.9 496.6 L830.9 494.6 L829.9 493.5 L827.9 493.8 L826.5 493.9 L823.7 494 L822 494.8 L819.7 494.6 L818.5 493.9 L816.5 492.7 L814.2 492.2 L812 491.6 L809.9 491.5 L808.3 491.6 L806.6 491.9 L803.8 493.1 L802.4 493.5 L801.2 494.1 L799.6 496.2 L797.9 496.8 L796.5 495.6 L794.4 494 L792.6 492.9 L792.4 490.8 L792.8 489.7 L792.6 488.3 L794.9 487.7 L796.4 487.5 L798.3 487 L799.8 486.4 L800.9 485.3 L802.7 484.5 L804.4 483.7 L805.2 482 L805 480.5 L803.7 479.7 L801.2 478.8 L799.8 477.2Z" fill="#cf761f" stroke="#7d8287" stroke-width="1.15" stroke-linejoin="round"/>
<path d="M806.2 452.5 L808 451.9 L810.6 451.6 L812.5 450.6 L813.9 449.5 L815.7 449 L818.5 448.9 L820 448.1 L821.2 447.8 L823.1 446.5 L825 446.3 L826.2 445 L827.1 443.1 L827.9 441.7 L828.6 439.9 L830 438.8 L831.6 439 L834 439.3 L836.2 440 L838.6 440.1 L840.9 439.3 L842.5 438.8 L844.3 439.3 L846.2 440 L844.7 441.5 L843.4 442.4 L842.5 443.8 L840.7 444.5 L839.8 446.4 L838.8 447.5 L840.5 448.4 L841.8 449.6 L843.8 450 L845.5 451.1 L846.9 452.3 L848 452.4 L850 453.8 L850.6 455.3 L851.2 457.5 L849.1 457.6 L847.2 458.5 L845 458.8 L844.3 460.7 L843.9 463 L843.2 464.6 L842.5 466.2 L843.9 467 L845.3 468.5 L847.5 468.8 L848.1 469.8 L849.2 471.8 L849 473.7 L850 475 L848.6 475.7 L847 476.4 L845 477.2 L843.2 477.4 L841.6 477.5 L840.3 477.9 L838.1 477 L835.9 476.4 L834.4 476.2 L832.5 475.9 L831.8 474.2 L830.5 472 L828.5 471.8 L826.3 472.2 L824.2 472.3 L822.4 471.7 L820.7 472 L819 470.9 L817.2 470.2 L816.2 470.1 L814.2 469.4 L813.1 468.2 L811.9 466.8 L810.3 464.8 L809.7 462.9 L809 460.9 L809.3 459.4 L808 457.8 L808.1 456.2 L807 454.8Z" fill="#fe9e44" stroke="#7d8287" stroke-width="1.15" stroke-linejoin="round"/>
<path d="M785 425.6 L787 425.8 L788.7 426.4 L790.8 425.6 L792.5 426.2 L793.8 425.3 L794.9 424.1 L796.2 422.5 L797.4 420.5 L798.9 418.8 L800.1 418.3 L801.2 416.2 L802.7 415 L803.9 413.7 L805 412.5 L807.6 411.8 L809.3 412 L811.2 411.2 L810.5 413.2 L810.2 415.6 L810 417.5 L809.9 420 L808.2 422.2 L808.1 423.8 L807.7 426 L808.1 427.9 L807.3 429.8 L807.5 432.5 L807.7 434.4 L806.6 436.8 L806.1 438.9 L806.2 441.2 L806.7 443.4 L806.2 445.3 L806.7 447.1 L805.9 448.7 L806.1 450.9 L806.2 452.5 L807 454.8 L808.1 456.2 L808 457.8 L809.3 459.4 L809 460.9 L809.7 462.9 L810.3 464.8 L808.3 464.8 L806.1 464.9 L804.6 464.8 L802 464.4 L800.5 464.8 L801.9 465.5 L804.4 466.8 L804.8 468.2 L804.4 469.4 L802.2 470.5 L800.5 470.7 L799.8 472.7 L799.9 475.1 L799.8 477.2 L797.8 476.6 L796 475.9 L794.6 474.7 L792.6 473.9 L790.5 473.5 L788.7 471.7 L786.7 471 L785 469.9 L782.8 469.4 L781.3 468.6 L779.3 469 L777.1 468.9 L775 468.1 L774.5 466 L773.8 463.9 L773.8 462.5 L774.6 461.4 L776.6 460.5 L777.5 458.8 L777.7 456.4 L778.9 454.2 L778.8 452.5 L779.9 450.9 L779.9 449.8 L781.2 448.8 L783.4 449.4 L784.3 449.5 L786.2 449.4 L787.9 448.2 L790 447.5 L791 446.1 L792.4 445.2 L793.8 443.8 L794.1 441.3 L793.3 440.1 L793.8 437.5 L792.3 436.6 L791.7 435.6 L790 435 L788.4 433.6 L786.2 432.6 L785 431.2 L782.8 431.4 L781.2 431.2 L782.2 430.3 L782.6 428.7 L784.1 427.2Z" fill="#cf761f" stroke="#7d8287" stroke-width="1.15" stroke-linejoin="round"/>
<path d="M767.5 428.1 L769.1 427.8 L770.7 426.5 L772.2 425.7 L773.8 425 L774.5 423.4 L775.6 422.9 L776.2 421.2 L776.8 419.5 L776.7 417.7 L777.5 416.2 L778.6 414.8 L779.4 414.2 L780 412.5 L781.6 414.2 L782.5 415 L781.7 417 L781.3 417.8 L780.6 420 L779.8 421.1 L779.4 422.5 L781.5 423.6 L783.6 424.2 L785 425.6 L784.1 427.2 L782.6 428.7 L782.2 430.3 L781.2 431.2 L779.9 432.4 L780.1 434.6 L778.8 436.2 L779.4 437.9 L780.5 440 L781.2 441.2 L780.1 442.4 L779.1 443.6 L778.1 445 L777.6 445.3 L776.2 446.2 L775.6 444.7 L774.3 444 L773.8 442.5 L773 440.9 L772.3 440.1 L771.2 438.8 L771.1 437.2 L771.1 435.2 L770.6 433.8 L769.8 432.4 L768.9 430.5Z" fill="#fe9e44" stroke="#7d8287" stroke-width="1.15" stroke-linejoin="round"/>
<path d="M865 422.5 L866.1 424.3 L866.4 425.7 L866.9 427.5 L868.9 428.6 L870 428.8 L871.4 427.9 L873 426.5 L873.8 425 L875.4 424.2 L876.7 423.7 L877.5 422.5 L880 422.6 L882.1 422.5 L883.8 423.1 L886 422.9 L887 423.7 L888.8 423.8 L890 424.7 L891.9 426.2 L890.6 428.4 L890 430 L887.9 430.8 L886.3 431 L885 431.2 L883.6 432.7 L882.1 433.3 L880.8 434.8 L878.8 436.2 L877.2 436.9 L876.4 438 L875 438.8 L874.7 440 L873.3 442.4 L872.5 443.8 L871.7 445.7 L871.2 447.5 L869.3 447.9 L868.1 448.7 L866 449.7 L865 450 L863 450.4 L861.6 450.5 L860 451.2 L857.7 451.1 L856.2 450 L854.8 448.7 L854 448.3 L852.5 447.5 L852.2 449.4 L851.1 450.8 L850.6 452 L850 453.8 L848 452.4 L846.9 452.3 L845.5 451.1 L843.8 450 L841.8 449.6 L840.5 448.4 L838.8 447.5 L839.8 446.4 L840.7 444.5 L842.5 443.8 L843.4 442.4 L844.7 441.5 L846.2 440 L845.7 438 L846.5 436.5 L845.8 434.2 L846.2 432 L846.4 429.9 L848.4 427.9 L849.4 427.4 L850.8 425.2 L852.4 423.9 L853.8 422.9 L855.8 421.5 L856.9 420.9 L859 420.8 L860.9 421 L862.1 421.6 L863.7 422.2Z" fill="#cf761f" stroke="#7d8287" stroke-width="1.15" stroke-linejoin="round"/>
<path d="M888.1 475.6 L889.4 474.1 L890 472.5 L891.3 472.9 L892.5 473.8 L892.7 475.3 L894 476.9 L894.4 478.1 L892.7 479.3 L891.2 480 L889.8 479.4 L888.1 478.8 L888.4 476.7Z" fill="#f5b800" stroke="#7d8287" stroke-width="1.15" stroke-linejoin="round"/>
<path d="M869.5 295.1 L868.8 297.1 L868.5 298.5 L867.4 300.3 L869 300.9 L870.5 300.6 L872.6 301.3 L873.7 301.9 L875 303 L876.7 304.4 L878.2 306.1 L878.2 307.9 L879.8 310 L881.5 309.2 L883.9 309 L885.5 308.4 L887.3 307.1 L889 306.2 L891 305.4 L892.8 306.7 L893.1 307.4 L894.5 308.2 L896.2 309.5 L895.8 310.9 L894.8 312.9 L894.9 314.4 L894.1 316.7 L893.8 318.8 L893.3 321.3 L893.7 322.7 L893.1 324.9 L892 326.6 L892 328.3 L891 330 L890.2 331.4 L888.5 333.2 L887.1 335.4 L886.4 336.3 L884.9 338.2 L883 339 L881.3 341.3 L879.8 342.3 L881.3 343.9 L882.1 344.4 L883.9 345.9 L885.9 346.4 L885.9 348.1 L884.9 349.5" fill="none" stroke="#7d8287" stroke-width="1.15" stroke-linejoin="round"/>
<path d="M884.9 349.5 L886.9 349.5 L889 349.2 L891 349.5 L891.8 351.2 L893 352.1 L894.3 354.7 L895.2 355.7 L896.7 355.3 L899.4 355.6 L901.8 355.4 L903.4 354.6 L906 355.5 L907.6 356.7 L909.1 357.3 L911.6 357.7 L913.3 359.2 L914.6 359.6 L916.4 361 L917.7 361.8 L919.6 361.3 L921.8 360.8 L923.2 362.9 L924.4 364.5 L925.9 365.9 L927.2 364.4 L928.8 363.6 L930.6 362.9 L932.1 361.8 L933.8 362.1 L935.4 362.9 L937.2 364.7 L938.3 364.9 L939.2 365 L940.3 365.9" fill="none" stroke="#7d8287" stroke-width="1.15" stroke-linejoin="round"/>
<path d="M876.9 354.1 L877.9 354.9 L879.6 357.3 L881 358.2 L881.2 360 L880.7 361.8 L881 364.4 L882.6 366.1 L884.1 367.4 L885.7 366.5 L887.2 365.4 L888 367.3 L889.7 368.9 L890.2 371 L891.3 372.6" fill="none" stroke="#7d8287" stroke-width="1.15" stroke-linejoin="round"/>
<path d="M891.3 372.6 L893.4 372.8 L895.3 373.3 L896.7 373.7 L898.5 374.6 L900 376.6 L900.8 377.2 L901.9 379.1 L903.6 380.8 L904.3 382.5 L905 384.5 L905.7 385.9 L906.4 387.3 L906.9 388.5 L908.5 390.9 L908.8 392.1" fill="none" stroke="#7d8287" stroke-width="1.15" stroke-linejoin="round"/>
<path d="M891.3 372.6 L890.5 373.9 L888.8 375.9 L887.6 377.3 L886.2 378.7 L884 379.9 L882.1 380.8 L881.2 381.8 L879 382.8 L877.6 384.2 L876.1 384.9 L874.3 386 L872.4 387.7 L870.5 389.1 L868.7 390 L867.7 388.7 L865.5 387.3 L864.6 385.9" fill="none" stroke="#7d8287" stroke-width="1.15" stroke-linejoin="round"/>
<path d="M864.6 385.9 L865.5 387.7 L864.8 389.4 L865.7 391 L865.1 392.3 L865.1 394.9 L863.9 396.9 L863.6 398.2 L865.5 399.3 L866.6 400.3 L868.2 401 L869.2 402.2 L870.8 403.4" fill="none" stroke="#7d8287" stroke-width="1.15" stroke-linejoin="round"/>
<path d="M830 395 L830.9 393.3 L832.7 392.1 L834 391.2 L835 390 L835.9 391.2 L836.2 392.5 L838 392.4 L840.2 391.2 L842.5 390.6 L844.4 389.2 L845.8 388.9 L847 387.7 L848.8 386.2 L850.6 385.4 L852.5 385.3 L853.8 384.4 L855.1 386 L855.9 386.7 L857.5 387.5 L858.6 388.7 L859.2 390.7 L859.1 392.5 L860 393.8 L861.7 393.4 L863.5 394 L865 393.8 L865.1 391.7 L865.2 389.3 L864.3 387.9 L864.6 385.9" fill="none" stroke="#7d8287" stroke-width="1.15" stroke-linejoin="round"/>
<path d="M811.2 411.2 L812.5 410.8 L815 411.1 L816.5 410.4 L817.4 408.5 L818.9 406.9 L819.5 405.9 L821.9 404.9 L822.9 404.5 L825.4 404.4 L827.2 403.4 L829.7 402.9 L831.4 402.2 L830.7 400.2 L831.1 398.1 L829.9 397.3 L830 395" fill="none" stroke="#7d8287" stroke-width="1.15" stroke-linejoin="round"/>
<path d="M829.9 394.7 L829.2 396.8 L829.9 398.1 L829.2 399.9 L830.2 400.7 L831.3 402.2 L832.9 403.7 L832.3 406.1 L831.4 407.4 L832.4 409 L833.6 410 L834.4 411.9 L832.8 413.3 L831.1 415.1 L829.9 416.4 L829.3 418.2 L828.4 419 L828.4 420.9 L829.7 422.5 L830.7 424 L831.8 425.5 L832.2 426.9 L832.3 427.9 L832.9 429.9 L832.3 431.8 L832 433.3 L831.3 434.7 L831 436.7 L830 438.8" fill="none" stroke="#7d8287" stroke-width="1.15" stroke-linejoin="round"/>
<path d="M719.9 379.5 L720 381.9 L720.3 384.1 L721 385.9 L721.1 388.2 L721.4 389.9 L721.8 391.4 L723.5 393.5 L724.6 394.6 L725 396.8 L725.9 398.2 L728.3 398.4 L729.8 397.9 L731.4 397.6 L733.4 396.7 L734.5 397.8 L736.1 398.7 L737.9 399.7 L736.4 401.2 L736.1 402.4 L734.4 403.7 L733.4 404.9 L735 406.7 L736.7 408 L738.1 409.2 L739.4 410.9 L740.5 412.4 L742.2 412.9 L744.2 413.5 L745.7 415.2 L746.9 416.1 L748.7 414.9 L750.2 414 L751.8 413.7 L752.9 412.4 L755.1 412.8 L756.7 411.7 L758.2 411.6 L760.9 411.2 L762.6 411.6 L763 413.6 L762.7 415.1 L763.3 416.1 L761.8 417.6 L760.6 419.5 L759.4 421.5 L758.1 422.9 L759.4 425.1 L760.1 426.2 L761.8 428.1 L763.7 427.9 L765.5 428 L767.8 428.1" fill="none" stroke="#7d8287" stroke-width="1.15" stroke-linejoin="round"/>
<path d="M669 408.5 L670.5 408.7 L672.5 407.6 L674.5 407.6 L676.2 406.6 L677.8 406.8 L679.3 407.1 L682.1 406.7 L683.3 406.7 L685.5 406 L688.2 406.1 L689.2 406.1 L691.7 405.8 L692.9 407 L695.1 407.9 L696.4 408.4 L697.8 410 L699.7 410.8 L701.3 411.7 L702.6 413.1 L704.6 413.5 L706.5 415.3 L707.7 415.8 L709.1 414.7 L709.7 412.7 L711.6 412.4 L712.9 410.3 L714 409.4 L716.1 410 L717.4 410.5 L719.6 411.1 L721.5 412.2 L723 411.7 L724.8 411.1 L726.2 411.2 L727.6 412.1 L729.4 413.7 L731.1 414.8 L732.6 416.5 L734.6 417.8 L736.8 419 L738.5 420.1 L740 420.9 L741.9 421.5 L742.9 423.2 L745 424.7 L746.8 425.3 L748.8 426.4 L750.3 427.9 L751.4 429.9 L751.5 431.5 L752.5 433.2 L753.1 436 L753.3 437.4 L752.3 438.9 L750.9 440.6 L750.9 441.5 L749.1 442.9 L748.6 444.9 L747.9 446 L746.5 448.2 L744.9 449.6 L745.8 451.5 L746.8 453.3 L745 453.5 L743.6 454.7 L742.1 455.2 L740.1 454 L738.4 452.8 L736.5 452.4 L736.9 454 L737.4 456.1 L739.5 457.9 L740.2 458.4 L742.1 459.9 L743 461.7" fill="none" stroke="#7d8287" stroke-width="1.15" stroke-linejoin="round"/>
<path d="M710.3 465.5 L710.4 464 L711.6 462.2 L712.2 459.4 L712.2 458 L712.8 456.3 L714.3 454.1 L715.4 452.5 L715.9 451 L716.8 452.5 L718.8 452.8 L719.6 454.3 L720.3 455.8 L719.8 457.7 L720.6 459.9 L722.1 461.1 L723.7 461.7 L725.2 462.9 L726.2 463.6 L727.8 464.3 L729.7 464.9 L730.6 465.4 L732.7 466.4 L735 465.9 L736.3 464.9 L738.4 464.5 L739.7 462.2 L740.2 460.8 L741.9 460.5 L743 459.9" fill="none" stroke="#7d8287" stroke-width="1.15" stroke-linejoin="round"/>
<path d="M743 459.9 L744.1 459.1 L746 458.5 L746.8 457.1 L748.4 455.8 L749.7 454.7 L751.4 453.3 L753.1 454.4 L754.5 456.3 L755.2 458 L757 459.1 L758.5 459.5 L759.4 460.7 L760.8 461.7 L762 463.5 L762.1 465.2 L763.6 467.4 L765.7 467.7 L766.9 467.3 L769.3 467.8 L771.1 467.4 L772.1 466.1 L774 465.7 L774.8 464.5 L775.3 466.7 L775 468.1" fill="none" stroke="#7d8287" stroke-width="1.15" stroke-linejoin="round"/>
<path d="M852.5 447.5 L853.5 449.6 L854.3 451.2 L854.3 453 L855.5 454.2 L856.2 456.2 L858.1 456.6 L859.3 456.9 L861.2 457.5 L862.2 459.3 L863.3 460.3 L863.6 462.5 L865 463.8 L866.6 464.1 L867.8 465.1 L870 465 L871.6 466.8 L872.5 467.5 L871.7 468.8 L870.5 468.8 L868.8 470 L868.8 471.8 L867.4 472.9 L867.5 475 L869.5 475.3 L870.8 476.4 L872.5 477.5 L874.2 478.4 L875.2 478.8 L876.2 480" fill="none" stroke="#7d8287" stroke-width="1.15" stroke-linejoin="round"/>
<path d="M876.2 480 L875.4 482 L875 483.2 L873.8 485 L872.5 486.4 L872.1 488.1 L871.2 490 L870.8 492 L869.2 493.4 L868.8 495 L868.2 496.2 L868.3 497.9 L867.5 500 L866.8 497.9 L866.6 496.2 L866.8 494.4 L866.2 492.5" fill="none" stroke="#7d8287" stroke-width="1.15" stroke-linejoin="round"/>
<path d="M876.2 480 L878.3 479.7 L880 480 L882.2 480.7 L883.4 481.3 L885 481.2 L884.7 482.2 L883.5 483.4 L882.5 485 L884.3 485.2 L886.1 485.3 L887.5 485 L889.1 484 L890.6 482.6 L892.5 481.2" fill="none" stroke="#7d8287" stroke-width="1.15" stroke-linejoin="round"/>
<path d="M872.5 503.8 L873.1 505.4 L873.3 506.7 L873.8 508.8 L876.2 509.2 L877.9 508.5 L879 508.8 L881.2 508.8 L882.8 509 L885.2 509.4 L887.5 510" fill="none" stroke="#7d8287" stroke-width="1.15" stroke-linejoin="round"/>
<path d="M851.2 532.5 L853 532.6 L855.3 534.1 L857.3 534.8 L858.8 535 L859.6 536.3 L860.8 538.1 L861.6 539.5 L862.5 541.2 L861.2 542.5" fill="none" stroke="#7d8287" stroke-width="1.15" stroke-linejoin="round"/>
<path d="M791.9 578.8 L794 577.5 L795 576.2 L796.9 575.8 L799.1 574.8 L801.2 574.4 L803.8 574.1 L805.8 573.1 L807.5 573.1 L808.9 573.1 L811.2 573.8 L811.1 575.4 L811.9 576.2 L810.7 577.9 L809.7 579.1 L808.4 580.1 L807.5 581.2 L805.9 582.6 L804.7 583.3 L803.2 585.3 L802.5 586.2 L800.9 586.4 L798.8 587.5 L797.6 587 L795.8 586.1 L793.8 586.2 L793.1 585.1 L792.2 583.3 L791.2 582.5 L791.8 580.6Z" fill="#964806" stroke="#7d8287" stroke-width="1.15" stroke-linejoin="round"/>
<path d="M897.5 525.2 L901.2 526.9 L901.2 532.5 L900 538.8 L897.5 545 L895 550 L895 553.8 L893.8 553.1 L892.5 550 L888.1 546.2 L886.9 541.2 L889.4 535 L893.8 528.1Z" fill="#e8e8e8" stroke="#7d8287" stroke-width="1.15" stroke-linejoin="round"/>
<path d="M841 405.4 L842.3 403.7 L843.5 402.4 L844.1 401.3 L845.6 400.6 L846.9 399.4 L848.2 397.7 L849.1 398.3 L851.2 399.9 L852.3 400.3 L852.6 402 L853.3 403.4 L854.5 404.1 L856.4 405.4 L855.9 406.7 L854.4 408.5 L853.1 409.5 L851.3 409.5 L849.5 409.4 L848.2 408.5 L846.2 408.6 L844.8 409.2 L843.1 409.5 L842.7 408.3 L841.3 406.9Z" fill="#964806" stroke="#7d8287" stroke-width="1.15" stroke-linejoin="round"/>
<path d="M856.1 405.2 L856.3 407.4 L856.9 408.9 L858.5 410.9 L859.1 411.9 L858.1 413.7 L857.6 414.9 L855.4 415.7 L853.9 417.2 L852.8 416.5 L851.6 415.7 L851.2 414 L850.9 411.9 L850.9 410.1 L851.6 408.9 L853.6 408 L855.1 406.5Z" fill="#964806" stroke="#7d8287" stroke-width="1.15" stroke-linejoin="round"/>
<rect x="544" y="502" width="23" height="93.5" fill="#ffffff"/>
<rect x="545" y="502.90" width="21" height="14" fill="#ffe7c8"/>
<text x="568" y="515.20" font-size="12" fill="#7b7f80">0~5</text>
<rect x="545" y="518.35" width="21" height="14" fill="#ffcb9a"/>
<text x="568" y="530.65" font-size="12" fill="#7b7f80">5~6</text>
<rect x="545" y="533.80" width="21" height="14" fill="#feb571"/>
<text x="568" y="546.10" font-size="12" fill="#7b7f80">6~7</text>
<rect x="545" y="549.25" width="21" height="14" fill="#fe9e44"/>
<text x="568" y="561.55" font-size="12" fill="#7b7f80">7~8</text>
<rect x="545" y="564.70" width="21" height="14" fill="#cf761f"/>
<text x="568" y="577.00" font-size="12" fill="#7b7f80">8~9</text>
<rect x="545" y="580.15" width="21" height="14" fill="#964806"/>
<text x="568" y="592.45" font-size="12" fill="#7b7f80">9~</text>
<text x="894" y="610.5" font-size="12.5" fill="#e4e6ee" textLength="112" lengthAdjust="spacingAndGlyphs">ExcelPro的图表博客</text>
</svg>
<svg class="abs" style="left:770px;top:720px" width="80" height="80" viewBox="0 0 80 80">
<path fill="#2e1f86" fill-rule="evenodd" d="M9.5 47.9 Q10.5 42 14.4 37.4 Q18 32 23.5 27 Q30 21.5 37.4 17.9 Q42 15.8 47.9 15.1 Q55 14.5 59.1 18.6 Q63.5 22 63.3 27 Q63 32.5 60.5 37.4 Q57 42.5 51.4 46.5 Q45 50.5 37.4 52.8 Q30 54.8 23.5 54.9 Q17 55 13 53.5 Q9 51.5 9.5 47.9Z M13.7 47.9 Q15.1 42.6 18.6 37.4 Q22.1 32.6 27.0 29.0 Q32.6 24.1 39.5 20.7 Q46.6 18.1 53.5 18.6 Q58.1 20.1 57.7 24.2 Q57.1 28.6 54.9 32.5 Q51.1 37.1 46.5 40.9 Q40.6 44.1 33.9 46.5 Q27.6 48.6 22.1 48.6 Q16.6 49.1 13.7 47.9Z"/>
<path d="M12 41 Q16 34 23 28" stroke="#ffffff" stroke-width="1.6" fill="none"/>
<path fill="#2d9ad6" fill-rule="evenodd" d="M20.67 59.78 L25.21 47.21 Q22.06 43.72 22.76 39.53 Q24.86 32.54 36.73 26.26 Q29.05 31.14 26.95 36.73 Q26.95 40.92 31.14 39.53 L36.73 35.34 L45.11 17.87 Q48.61 10.19 52.8 9.84 Q55.59 10.89 54.89 17.18 Q53.5 24.16 45.11 33.94 Q38.83 40.92 36.73 45.11 L33.94 59.78Z M50.2 14 Q53.2 12.3 53 17.5 Q51.8 23.5 43.2 31.5 Q45.8 23 50.2 14Z"/>
<circle cx="50.2" cy="16.2" r="1" fill="#2e1f86"/>
<text x="11.5" y="71" font-family="Liberation Sans" font-size="13" font-weight="bold" font-style="italic" fill="#2e1f86" textLength="42.5" lengthAdjust="spacingAndGlyphs">CADA</text>
</svg>
<svg class="abs" style="left:830px;top:738px" width="242" height="60" viewBox="830 738 242 60">
<text x="847" y="768" font-family="Liberation Sans" font-size="25.5" font-weight="bold" fill="#000" textLength="211" lengthAdjust="spacing">中国汽车流通协会</text>
<text x="834" y="788" font-family="Liberation Serif" font-size="15.5" font-style="italic" fill="#000" textLength="228" lengthAdjust="spacingAndGlyphs">China Automobile Dealers Association</text>
</svg>
</body></html>
